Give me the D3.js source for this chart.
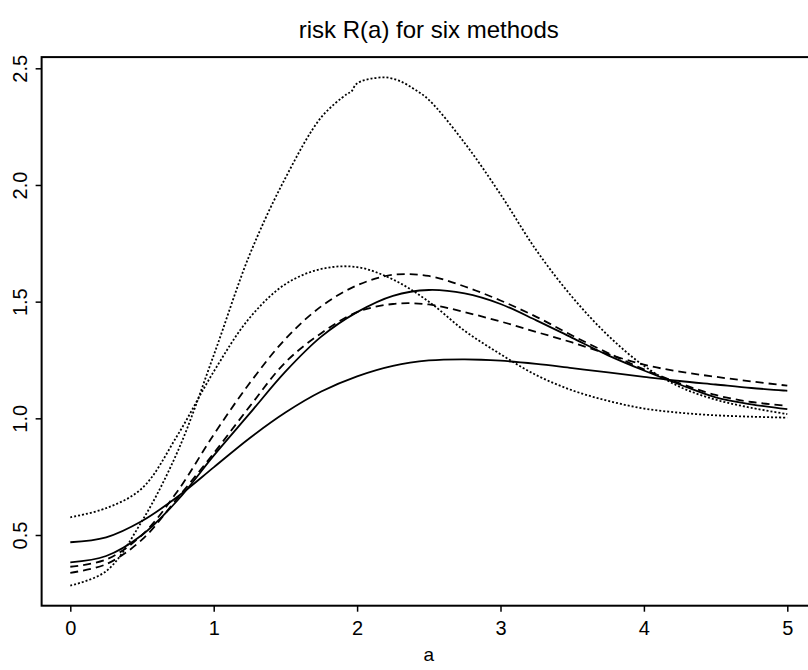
<!DOCTYPE html>
<html lang="en">
<head>
<meta charset="UTF-8">
<title>risk R(a) for six methods</title>
<script src="https://d3js.org/d3.v7.min.js"></script>
<style>
    body { margin: 0; background: #fff; }
    svg { display: block; }
    svg text { font-family: 'Liberation Sans', Arial, Helvetica, sans-serif; fill: #000; }
</style>
</head>
<body>
<svg width="808" height="670"></svg>
<script>
    // values
    const aGrid = [0, 0.25, 0.5, 0.75, 1, 1.25, 1.5, 1.75, 2, 2.25, 2.5, 2.75, 3, 3.25, 3.5, 3.75, 4, 4.25, 4.5, 4.75, 5];
    const solidA  = [0.469, 0.49, 0.56, 0.665, 0.79, 0.915, 1.025, 1.115, 1.18, 1.225, 1.248, 1.253, 1.247, 1.233, 1.215, 1.197, 1.178, 1.16, 1.145, 1.13, 1.118];
    const solidB  = [0.383, 0.41, 0.5, 0.65, 0.84, 1.02, 1.2, 1.35, 1.455, 1.525, 1.55, 1.535, 1.49, 1.42, 1.345, 1.27, 1.205, 1.145, 1.09, 1.06, 1.039];
    const dashedA = [0.364, 0.395, 0.5, 0.69, 0.93, 1.15, 1.34, 1.48, 1.57, 1.615, 1.61, 1.565, 1.505, 1.435, 1.355, 1.28, 1.21, 1.15, 1.1, 1.07, 1.054];
    const dashedB = [0.338, 0.375, 0.48, 0.66, 0.85, 1.05, 1.24, 1.365, 1.455, 1.49, 1.488, 1.455, 1.415, 1.37, 1.325, 1.275, 1.23, 1.2, 1.178, 1.158, 1.14];
    const dottedB = [0.576, 0.615, 0.7, 0.93, 1.2, 1.43, 1.575, 1.64, 1.648, 1.595, 1.5, 1.375, 1.275, 1.185, 1.12, 1.075, 1.042, 1.024, 1.013, 1.007, 1.003];
    // the tall curve has a small kink near a = 2
    const aDottedA = [0, 0.25, 0.5, 0.75, 1, 1.25, 1.5, 1.75, 1.93, 1.96, 1.99, 2.03, 2.1, 2.2, 2.3, 2.4, 2.5, 2.75, 3, 3.25, 3.5, 3.75, 4, 4.25, 4.5, 4.75, 5];
    const dottedA = [0.283, 0.345, 0.56, 0.86, 1.27, 1.7, 2.03, 2.29, 2.39, 2.4, 2.43, 2.445, 2.456, 2.461, 2.445, 2.41, 2.365, 2.18, 1.96, 1.72, 1.52, 1.355, 1.225, 1.135, 1.08, 1.045, 1.018];

    const xTicks = [0, 1, 2, 3, 4, 5];
    const yTicks = [0.5, 1.0, 1.5, 2.0, 2.5];

    const series = [
        { vals: solidA, a: aGrid, dash: null },
        { vals: solidB, a: aGrid, dash: null },
        { vals: dashedA, a: aGrid, dash: "8,5" },
        { vals: dashedB, a: aGrid, dash: "8,5" },
        { vals: dottedA, a: aDottedA, dash: "2,2" },
        { vals: dottedB, a: aGrid, dash: "2,2" }
    ];

    const svg = d3.select("svg");

    const x = d3.scaleLinear().domain([0, 5]).range([70.3, 787.3]);
    const y = d3.scaleLinear().domain([0.5, 2.5]).range([535, 68.3]);

    // plot box (R style, 4% padding around the data)
    const x0 = x(-0.2), x1 = x(5.2), y0 = y(0.197), y1 = y(2.548);
    svg.append("rect")
        .attr("x", x0).attr("y", y1)
        .attr("width", x1 - x0).attr("height", y0 - y1)
        .attr("fill", "none").attr("stroke", "#000").attr("stroke-width", 2);

    const xAxis = svg.append("g")
        .attr("transform", `translate(0,${y0})`)
        .call(d3.axisBottom(x).tickValues(xTicks).tickFormat(d3.format("d")).tickSize(6).tickPadding(9));
    xAxis.select(".domain").remove();
    xAxis.selectAll("line").attr("stroke", "#000").attr("stroke-width", 1.5);
    xAxis.selectAll("text").attr("font-size", 20);

    const yAxis = svg.append("g")
        .attr("transform", `translate(${x0},0)`)
        .call(d3.axisLeft(y).tickValues(yTicks).tickFormat(d3.format(".1f")).tickSize(6));
    yAxis.select(".domain").remove();
    yAxis.selectAll("line").attr("stroke", "#000").attr("stroke-width", 1.5);
    yAxis.selectAll("text")
        .attr("font-size", 20)
        .attr("text-anchor", "middle")
        .attr("dy", null)
        .attr("x", null)
        .attr("transform", "translate(-15,0) rotate(-90)");

    const line = d3.line()
        .x(d => x(d[0]))
        .y(d => y(d[1]))
        .curve(d3.curveCatmullRom.alpha(0.5));

    svg.append("g").selectAll("path")
        .data(series)
        .join("path")
        .attr("d", s => line(s.a.map((a, i) => [a, s.vals[i]])))
        .attr("fill", "none")
        .attr("stroke", "#000")
        .attr("stroke-width", 1.8)
        .attr("stroke-dasharray", s => s.dash);

    svg.append("text")
        .attr("x", (x0 + x1) / 2).attr("y", 38)
        .attr("text-anchor", "middle")
        .attr("font-size", 24)
        .text("risk R(a) for six methods");

    svg.append("text")
        .attr("x", (x0 + x1) / 2).attr("y", 661)
        .attr("text-anchor", "middle")
        .attr("font-size", 19)
        .text("a");
</script>
</body>
</html>
